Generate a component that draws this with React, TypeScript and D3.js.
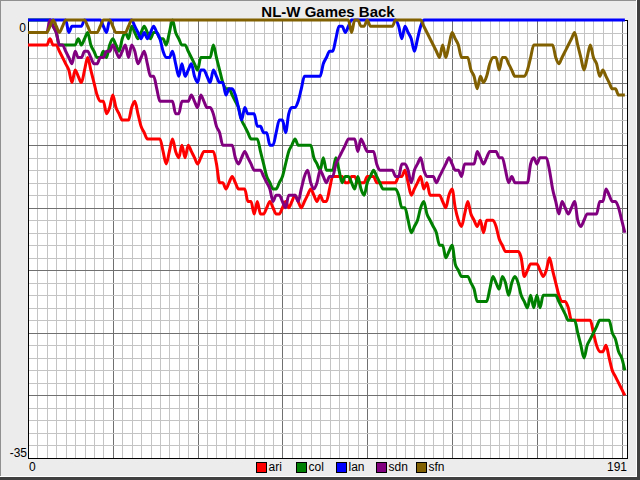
import React from 'react';
import * as d3 from 'd3';

// games back per game, index = game number (0..190)
const ari = [
  -2, -2, -2, -2, -2, -2, -2, -1.5, -2, -2,
  -2.5, -3, -3.5, -4, -5, -4, -4.5, -5, -4, -3,
  -4, -5, -6, -6.5, -6.5, -7.5, -7, -6, -7, -7.5,
  -8, -8, -8, -7, -6.5, -7.5, -8.5, -9, -9.5, -9.5,
  -9.5, -9.5, -9.5, -10.5, -11.5, -10.5, -9.5, -10.5, -11, -10,
  -11, -10, -10.5, -11, -11.5, -11, -10.5, -10.5, -10.5, -10.5,
  -11.5, -13, -13, -13.5, -13, -12.5, -13, -13.5, -13.5, -13.5,
  -14.5, -14.5, -15.5, -14.5, -15.5, -15.5, -15, -14.5, -15, -15.5,
  -15.5, -15, -14.5, -15, -14.5, -14, -14.5, -15, -14.5, -14,
  -13.5, -14, -14.5, -14, -14.5, -14.5, -13.5, -12.5, -12.5, -12.5,
  -12.5, -13, -13, -12.5, -12.5, -13, -13, -13, -12.5, -12.5,
  -12.5, -13, -13, -13, -13, -13, -13, -13, -12.5, -12.5,
  -12, -13, -14, -13.5, -13, -12.5, -13.5, -13, -14, -14,
  -14, -14, -14.5, -15, -14, -13.5, -15, -16, -16.5, -15.5,
  -14.5, -15.5, -16, -16.5, -16, -17, -16, -16, -16, -16.5,
  -17.5, -18, -18.5, -18.5, -18.5, -18.5, -18.5, -19, -20.5, -20,
  -19.5, -19.5, -19.5, -20, -20.5, -20, -19, -20, -21, -22,
  -22.5, -22.5, -23, -24, -24, -24, -24, -24, -24, -24,
  -25, -26, -26.5, -26.5, -26, -27, -28, -28.5, -29, -29.5,
  -30,
];

const col = [
  0, 0, 0, 0, 0, 0, 0, 0, -0.5, -1,
  -2, -2, -2, -2, -2, -2, -1.5, -2, -1.5, -1,
  -2, -2.5, -3, -3, -2.5, -3, -2, -1.5, -2, -2.5,
  -1.5, -1, -1.5, -0.5, -1, -1.5, -1, -0.5, -1, -1.5,
  -1, -1, -1.5, -1.5, -2, -1, 0, -1, -1.5, -2,
  -2, -2.5, -3, -3.5, -4, -3, -3, -3, -3, -2,
  -3, -4, -5, -5.5, -5.5, -6, -6.5, -7, -8, -8.5,
  -9, -9.5, -9.5, -9.5, -10.5, -11.5, -12.5, -13, -13.5, -13.5,
  -13, -12.5, -11.5, -10.5, -10, -9.5, -10, -10, -10, -10,
  -10, -11, -11.5, -12, -11, -12, -12, -12, -11, -12,
  -13, -12.5, -12.5, -13, -13.5, -12.5, -13.5, -14, -13, -12.5,
  -12, -12.5, -13, -13.5, -13.5, -13.5, -13.5, -13.5, -14, -15,
  -15, -16, -17, -16.5, -16, -15, -14.5, -15.5, -16, -16.5,
  -17, -18, -18, -19, -18.5, -18, -19.5, -20, -20.5, -20.5,
  -20.5, -21, -21.5, -22.5, -22.5, -22.5, -22.5, -21.5, -20.5, -21,
  -21.5, -20.5, -21, -22, -21, -20.5, -21, -22, -22.5, -23,
  -22, -23, -22, -23, -22, -22, -22, -22, -22, -22.5,
  -23, -23.5, -24, -24, -24, -25, -26, -27, -26, -25.5,
  -25, -24.5, -24, -24, -24, -24, -25, -25.5, -26.5, -27,
  -28,
];

const lan = [
  0, 0, 0, 0, 0, 0, 0, 0, 0, 0,
  0, 0, 0, -1, -0.5, -0.5, -0.5, -0.5, 0, 0,
  0, 0, 0, 0, -0.5, -1, 0, 0, 0, 0,
  0, 0, 0, 0, -0.5, -1, -1.5, -1, -1.5, -1,
  -0.5, -1, -1.5, -2.5, -3, -3, -2.5, -3.5, -4.5, -3.5,
  -4.5, -4, -3.5, -4.5, -5, -4, -4, -4.5, -5, -4,
  -4.5, -5, -5, -6, -5.5, -5.5, -6, -7, -8, -7,
  -7.5, -7.5, -7.5, -8.5, -8.5, -9, -9, -10, -10, -9,
  -8, -8, -9, -7.5, -7, -7, -6.5, -5.5, -4.5, -4.5,
  -4.5, -4.5, -4.5, -4.5, -3.5, -3, -2.5, -2.5, -1.5, -0.5,
  -0.5, -1, -0.5, 0, 0, 0, 0, 0, 0, 0,
  0, 0, 0, 0, 0, 0, 0, 0, -0.5, -1.5,
  -0.5, -1, -1.5, -2.5, -1.5, -0.5, 0, 0, 0, 0,
  0, 0, 0, 0, 0, 0, 0, 0, 0, 0,
  0, 0, 0, 0, 0, 0, 0, 0, 0, 0,
  0, 0, 0, 0, 0, 0, 0, 0, 0, 0,
  0, 0, 0, 0, 0, 0, 0, 0, 0, 0,
  0, 0, 0, 0, 0, 0, 0, 0, 0, 0,
  0, 0, 0, 0, 0, 0, 0, 0, 0, 0,
  0,
];

const sdn = [
  -1, -1, -1, -1, -1, -1, -1, 0, -0.5, -1,
  -2, -2, -2.5, -3, -3.5, -2.5, -3, -3, -2.5, -2.5,
  -3, -3.5, -3.5, -3, -3, -2.5, -2.5, -2, -2.5, -3,
  -2.5, -2, -3, -2, -2.5, -3.5, -3, -2.5, -3.5, -4.5,
  -4.5, -5.5, -6.5, -6.5, -6.5, -6.5, -6.5, -7.5, -7.5, -6.5,
  -6.5, -6.5, -6, -6.5, -7, -6, -6.5, -7, -7, -7.5,
  -8.5, -9, -10, -10, -10, -10, -11, -11.5, -11, -10.5,
  -11, -11.5, -12, -12, -12, -12.5, -13, -13.5, -14.5, -14,
  -14, -14.5, -15, -14, -14, -14, -14.5, -13.5, -12.5, -12,
  -13, -13.5, -13, -12, -12.5, -13, -12.5, -12.5, -11.5, -11,
  -10.5, -10, -9.5, -9.5, -9.5, -10.5, -9.5, -10, -10.5, -10.5,
  -10.5, -11.5, -12, -12, -12, -12, -12, -12.5, -12.5, -11.5,
  -11.5, -12, -13, -12, -11.5, -11, -12, -12.5, -12.5, -12.5,
  -13, -12.5, -12, -11.5, -11, -11.5, -12, -12, -12.5, -11.5,
  -11.5, -11.5, -11.5, -10.5, -11, -11.5, -11, -10.5, -10.5, -10.5,
  -11, -11, -12, -13, -12.5, -13, -13, -13, -13, -13,
  -11.5, -11, -11.5, -11, -11, -11, -12, -13.5, -14.5, -15.5,
  -14.5, -15, -15.5, -15, -14.5, -16, -16.5, -16, -15.5, -15.5,
  -15.5, -15.5, -14.5, -14.5, -13.5, -14, -14.5, -14.5, -15, -16,
  -17,
];

const sfn = [
  -1, -1, -1, -1, -1, -1, -1, -0.5, 0, -0.5,
  -1, -0.5, 0, 0, 0, 0, 0, 0, 0, -0.5,
  -1, -1, -1, -0.5, 0, 0, 0, -0.5, -1, -1,
  -1, -1, -0.5, 0, 0, 0, 0, 0, 0, 0,
  0, 0, 0, 0, 0, 0, 0, 0, 0, 0,
  0, 0, 0, 0, 0, 0, 0, 0, 0, 0,
  0, 0, 0, 0, 0, 0, 0, 0, 0, 0,
  0, 0, 0, 0, 0, 0, 0, 0, 0, 0,
  0, 0, 0, 0, 0, 0, 0, 0, 0, 0,
  0, 0, 0, 0, 0, 0, 0, 0, 0, 0,
  0, 0, 0, -1, 0, 0, -0.5, -0.5, 0, -0.5,
  -0.5, -0.5, -0.5, -0.5, -0.5, -0.5, -0.5, 0, 0, 0,
  0, 0, 0, 0, 0, 0, -0.5, -1, -1.5, -2,
  -2.5, -3, -2, -3, -2, -1, -1.5, -2, -3, -3,
  -3, -4, -4.5, -5.5, -4.5, -5, -4.5, -3.5, -3, -3,
  -4, -3, -3, -3.5, -4, -4.5, -4.5, -4.5, -4.5, -4,
  -3, -2, -2, -2, -2, -2, -2, -2, -3, -3.5,
  -3, -2.5, -2, -1.5, -1, -2, -3, -4, -3, -2,
  -3, -3.5, -4.5, -4, -4.5, -5, -5.5, -5.5, -6, -6,
  -6,
];

const teams = ['ari', 'col', 'lan', 'sdn', 'sfn'];
const colors = ['#ff0000', '#008000', '#0000ff', '#800080', '#806000'];
const seriesList = [ari, col, lan, sdn, sfn];

const xTickLabels = ['0', '191'];
const yTickLabels = ['0', '-35'];

const W = 640;
const H = 480;
const plot = { left: 28, right: 628, top: 20, bottom: 458 };
const font = '"Liberation Sans", Arial, sans-serif';

export default function App() {
  const x = d3.scaleLinear().domain([0, 191]).range([plot.left, plot.right]);
  const y = d3.scaleLinear().domain([0, -35]).range([plot.top, plot.bottom]);

  const line = d3
    .line<number>()
    .x((_d, i) => x(i))
    .y((d) => y(d))
    .curve(d3.curveMonotoneX);

  // grid: minor every 3 games / 1 game back, major every 27 games / 5 games back
  const vMinor = d3.range(3, 191, 3);
  const hMinor = d3.range(-1, -35, -1);
  const px = (v: number) => Math.round(v) + 0.5;

  return (
    <svg
      width={W}
      height={H}
      style={{ position: 'fixed', left: 0, top: 0, display: 'block' }}
      fontFamily={font}
    >
      <rect x={0} y={0} width={W} height={H} fill="#ececec" />
      {/* window relief */}
      <line x1={0.5} y1={0} x2={0.5} y2={H} stroke="#909090" />
      <line x1={0} y1={0.5} x2={W} y2={0.5} stroke="#909090" />
      <line x1={636.5} y1={0} x2={636.5} y2={477} stroke="#ffffff" />
      <line x1={0} y1={476.5} x2={637} y2={476.5} stroke="#ffffff" />
      <rect x={637} y={0} width={3} height={H} fill="#404040" />
      <rect x={0} y={477} width={W} height={3} fill="#404040" />

      <text x={(plot.left + plot.right) / 2} y={17} textAnchor="middle" fontSize={15} fontWeight="bold">
        NL-W Games Back
      </text>

      <rect
        x={plot.left}
        y={plot.top}
        width={plot.right - plot.left}
        height={plot.bottom - plot.top}
        fill="#ffffff"
      />
      <g shapeRendering="crispEdges">
        {vMinor.map((g) => (
          <line
            key={'v' + g}
            x1={px(x(g))}
            x2={px(x(g))}
            y1={plot.top}
            y2={plot.bottom}
            stroke={g % 27 === 0 ? '#707070' : '#c4c4c4'}
          />
        ))}
        {hMinor.map((v) => (
          <line
            key={'h' + v}
            x1={plot.left}
            x2={plot.right}
            y1={px(y(v))}
            y2={px(y(v))}
            stroke={v % 5 === 0 ? '#707070' : '#c4c4c4'}
          />
        ))}
        <rect
          x={plot.left + 0.5}
          y={plot.top + 0.5}
          width={plot.right - plot.left - 1}
          height={plot.bottom - plot.top}
          fill="none"
          stroke="#000000"
        />
      </g>

      {seriesList.map((s, i) => (
        <path
          key={teams[i]}
          d={line(s) || ''}
          fill="none"
          stroke={colors[i]}
          strokeWidth={3}
          strokeLinejoin="round"
        />
      ))}

      <g fontSize={12} fill="#000">
        <text x={plot.left - 2} y={y(0) + 12} textAnchor="end">
          {yTickLabels[0]}
        </text>
        <text x={plot.left - 1} y={y(-35) - 1} textAnchor="end">
          {yTickLabels[1]}
        </text>
        <text x={x(0) + 1} y={471} textAnchor="start">
          {xTickLabels[0]}
        </text>
        <text x={x(191) - 1} y={471} textAnchor="end">
          {xTickLabels[1]}
        </text>
      </g>

      <g fontSize={12}>
        {teams.map((t, i) => {
          const lx = 256.5 + i * 40;
          return (
            <g key={t}>
              <rect x={lx} y={462.5} width={10} height={10} fill={colors[i]} stroke="#000" shapeRendering="crispEdges" />
              <text x={lx + 12} y={471}>
                {t}
              </text>
            </g>
          );
        })}
      </g>
    </svg>
  );
}
